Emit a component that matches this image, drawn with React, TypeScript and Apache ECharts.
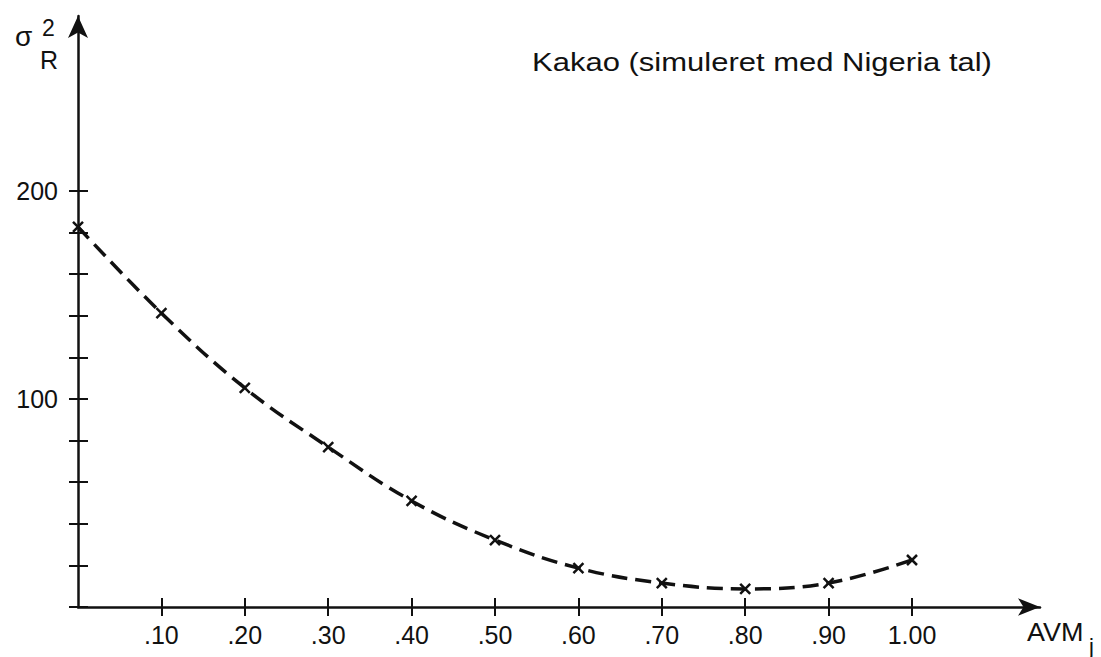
import React, { useEffect, useRef } from "react";
import * as echarts from "echarts";

// Data
const avmValues = [0, 0.1, 0.2, 0.3, 0.4, 0.5, 0.6, 0.7, 0.8, 0.9, 1.0];
const sigmaValues = [182.7, 141.3, 105.3, 76.9, 51.0, 32.2, 18.7, 11.5, 8.7, 11.5, 22.6];

const xTickValues = [0.1, 0.2, 0.3, 0.4, 0.5, 0.6, 0.7, 0.8, 0.9, 1.0];
const xTickLabels = [".10", ".20", ".30", ".40", ".50", ".60", ".70", ".80", ".90", "1.00"];
const yTickValues = [0, 20, 40, 60, 80, 100, 120, 140, 160, 180, 200];
const yLabelValues = [100, 200];
const yLabelTexts = ["100", "200"];

const titleText = "Kakao (simuleret med Nigeria tal)";

const FONT = "'Liberation Sans', Arial, sans-serif";

function lookup(values: number[], labels: string[], v: number): string {
  for (let i = 0; i < values.length; i++) {
    if (Math.abs(values[i] - v) < 1e-6) return labels[i];
  }
  return "";
}

export default function App() {
  const ref = useRef<HTMLDivElement>(null);

  useEffect(() => {
    if (!ref.current) return;
    const chart = echarts.init(ref.current, null, { renderer: "svg" });
    const gridLeft = 78;
    const gridRight = 61;
    const gridTop = 16;
    const gridBottom = 50;
    const plotW = 1101 - gridLeft - gridRight;
    const plotH = 657 - gridTop - gridBottom;
    const xMax = plotW / 834;
    const yMax = plotH / 2.08;
    const axisCommon = { lineStyle: { color: "#111", width: 2.5 } };
    chart.setOption({
      animation: false,
      backgroundColor: "#fff",
      grid: { left: gridLeft, right: gridRight, top: gridTop, bottom: gridBottom, containLabel: false },
      xAxis: [
        {
          type: "value",
          min: 0,
          max: xMax,
          axisLine: {
            show: true,
            onZero: false,
            symbol: ["none", "arrow"],
            symbolSize: [13, 22],
            ...axisCommon,
          },
          axisTick: {
            show: true,
            length: 9,
            customValues: xTickValues,
            lineStyle: { color: "#111", width: 2 },
          },
          axisLabel: {
            show: true,
            customValues: xTickValues,
            margin: 15,
            fontSize: 25,
            fontFamily: FONT,
            color: "#111",
            formatter: (v: number) => lookup(xTickValues, xTickLabels, v),
          },
          splitLine: { show: false },
        },
        {
          type: "value",
          min: 0,
          max: xMax,
          position: "bottom",
          axisLine: { show: false, onZero: false },
          axisTick: {
            show: true,
            inside: true,
            length: 9,
            customValues: xTickValues,
            lineStyle: { color: "#111", width: 2 },
          },
          axisLabel: { show: false },
          splitLine: { show: false },
        },
      ],
      yAxis: [
        {
          type: "value",
          min: 0,
          max: yMax,
          axisLine: {
            show: true,
            onZero: false,
            symbol: ["none", "arrow"],
            symbolSize: [15, 22],
            ...axisCommon,
          },
          axisTick: {
            show: true,
            length: 9,
            customValues: yTickValues,
            lineStyle: { color: "#111", width: 2 },
          },
          axisLabel: {
            show: true,
            customValues: yLabelValues,
            margin: 20,
            fontSize: 25,
            fontFamily: FONT,
            color: "#111",
            formatter: (v: number) => lookup(yLabelValues, yLabelTexts, v),
          },
          splitLine: { show: false },
        },
        {
          type: "value",
          min: 0,
          max: yMax,
          position: "left",
          axisLine: { show: false, onZero: false },
          axisTick: {
            show: true,
            inside: true,
            length: 10,
            customValues: yTickValues,
            lineStyle: { color: "#111", width: 2 },
          },
          axisLabel: { show: false },
          splitLine: { show: false },
        },
      ],
      series: [
        {
          type: "line",
          xAxisIndex: 0,
          yAxisIndex: 0,
          data: avmValues.map((x, i) => [x, sigmaValues[i]]),
          smooth: 0.4,
          clip: false,
          lineStyle: { color: "#111", width: 3.5, type: [16, 8] },
          symbol: "path://M0,0L10,10M10,0L0,10",
          symbolSize: 10,
          itemStyle: { color: "#111", borderColor: "#111", borderWidth: 2.5 },
        },
      ],
      graphic: [
        {
          type: "text",
          x: 532,
          y: 50,
          scaleX: 1.24,
          style: {
            text: titleText,
            font: `25px ${FONT}`,
            fill: "#111",
          },
        },
        {
          type: "text",
          x: 15,
          y: 22,
          style: { text: "σ", font: `28px ${FONT}`, fill: "#111" },
        },
        {
          type: "text",
          x: 42,
          y: 16,
          style: { text: "2", font: `23px ${FONT}`, fill: "#111" },
        },
        {
          type: "text",
          x: 40,
          y: 47,
          style: { text: "R", font: `25px ${FONT}`, fill: "#111" },
        },
        {
          type: "text",
          x: 1027,
          y: 620,
          scaleX: 1.08,
          style: { text: "AVM", font: `25px ${FONT}`, fill: "#111" },
        },
        {
          type: "text",
          x: 1089,
          y: 635,
          style: { text: "j", font: `22px ${FONT}`, fill: "#111" },
        },
      ],
    });
    return () => chart.dispose();
  }, []);

  return (
    <div
      ref={ref}
      style={{ position: "fixed", left: 0, top: 0, width: 1101, height: 657, background: "#fff" }}
    />
  );
}
